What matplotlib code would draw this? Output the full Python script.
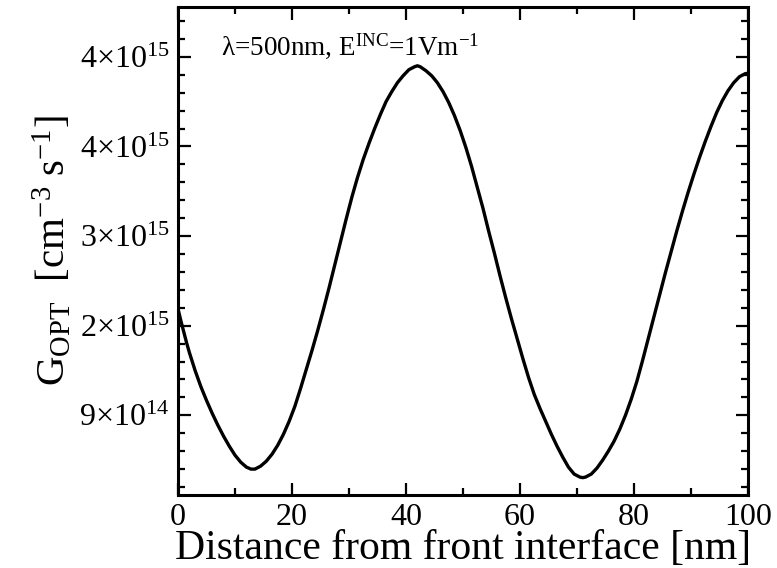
import matplotlib
matplotlib.use("Agg")
import matplotlib.pyplot as plt
from matplotlib.ticker import FixedLocator, FixedFormatter, MultipleLocator

plt.rcParams['font.family'] = ['Liberation Serif', 'DejaVu Serif']
plt.rcParams['mathtext.fontset'] = 'custom'
plt.rcParams['mathtext.rm'] = 'Liberation Serif'
plt.rcParams['mathtext.it'] = 'Liberation Serif:italic'
plt.rcParams['mathtext.bf'] = 'Liberation Serif:bold'

# Data (distance in nm, generation rate in 1e15 cm^-3 s^-1)
distance_nm = [0, 0.5, 1, 1.5, 2, 3, 4, 5, 6, 7, 8, 9, 10, 11, 12, 12.8, 13.5, 14.5, 15.5, 16.5,
               17.5, 18.5, 19.5, 20.5, 21.5, 22.5, 23.5, 24.5, 25.5, 26.5, 27.5, 28.5,
               29.5, 30.5, 31.5, 32.5, 33.5, 34.5, 35.5, 36.5, 37.5, 38.5, 39.5, 40.5,
               41.5, 42, 42.5, 43.5, 44.5, 45.5, 46.5, 47.5, 48.5, 49.5, 50.5, 51.5,
               52.5, 53.5, 54.5, 55.5, 56.5, 57.5, 58.5, 59.5, 60.5, 61.5, 62.5, 63.5,
               64.5, 65.5, 66.5, 67.5, 68.5, 69.5, 70.5, 71, 71.5, 72.5, 73.5, 74.5,
               75.5, 76.5, 77.5, 78.5, 79.5, 80.5, 81.5, 82.5, 83.5, 84.5, 85.5, 86.5,
               87.5, 88.5, 89.5, 90.5, 91.5, 92.5, 93.5, 94.5, 95.5, 96.5, 97.5, 98.5,
               99.5, 100]
g_opt_e15 = [1.97, 1.85, 1.74, 1.63, 1.53, 1.35, 1.19, 1.05, 0.92, 0.80, 0.69, 0.59, 0.50,
             0.43, 0.38, 0.36, 0.36, 0.39, 0.44, 0.51, 0.60, 0.71, 0.84, 0.99, 1.17, 1.36,
             1.55, 1.75, 1.96, 2.18, 2.41, 2.64, 2.87, 3.09, 3.29, 3.47, 3.63, 3.78, 3.92,
             4.05, 4.15, 4.24, 4.31, 4.37, 4.40, 4.41, 4.40, 4.36, 4.31, 4.24, 4.15,
             4.04, 3.91, 3.76, 3.59, 3.40, 3.19, 2.98, 2.75, 2.53, 2.30, 2.08, 1.87,
             1.67, 1.47, 1.28, 1.11, 0.97, 0.84, 0.71, 0.59, 0.48, 0.38, 0.31, 0.28,
             0.274, 0.28, 0.31, 0.37, 0.45, 0.54, 0.64, 0.76, 0.90, 1.06, 1.24, 1.45,
             1.67, 1.89, 2.11, 2.33, 2.54, 2.75, 2.95, 3.14, 3.32, 3.49, 3.65, 3.80,
             3.94, 4.06, 4.16, 4.24, 4.30, 4.33, 4.335]

ytick_values = [9e14, 1.8e15, 2.7e15, 3.6e15, 4.5e15]
ytick_labels = [r'$\mathregular{9{\times}10^{14}}$', r'$\mathregular{2{\times}10^{15}}$',
                r'$\mathregular{3{\times}10^{15}}$', r'$\mathregular{4{\times}10^{15}}$',
                r'$\mathregular{4{\times}10^{15}}$']

fig = plt.figure(figsize=(7.77, 5.68), dpi=100)
ax = fig.add_axes([178/777, 73/568, 570/777, 488/568])

ax.plot(distance_nm, [v * 1e15 for v in g_opt_e15], color='black', lw=2.4,
        solid_joinstyle='round', solid_capstyle='round')

ax.set_xlim(0, 100)
ax.set_ylim(1e14, 5e15)

ax.xaxis.set_major_locator(MultipleLocator(20))
ax.xaxis.set_minor_locator(MultipleLocator(10))
ax.yaxis.set_major_locator(FixedLocator(ytick_values))
ax.yaxis.set_major_formatter(FixedFormatter(ytick_labels))
ax.yaxis.set_minor_locator(MultipleLocator(1.8e14))

ax.tick_params(which='both', direction='in', top=True, right=True, width=1.6,
               labelsize=23)
ax.tick_params(which='major', length=9, pad=6)
ax.tick_params(which='minor', length=5)
for s in ax.spines.values():
    s.set_linewidth(2.2)

ax.set_xlabel('Distance from front interface [nm]', fontsize=30, labelpad=-2)
ax.set_ylabel(r'$\mathregular{G_{OPT}\ \ [cm^{-3}\ s^{-1}]}$', fontsize=29.5, labelpad=4)

ax.text(0.075, 0.9025, r'$\mathregular{\lambda}$=500nm, E$\mathregular{^{INC}}$=1Vm$\mathregular{^{-1}}$',
        transform=ax.transAxes, fontsize=19.5, va='baseline', ha='left')

fig.savefig('out.png', dpi=100)
